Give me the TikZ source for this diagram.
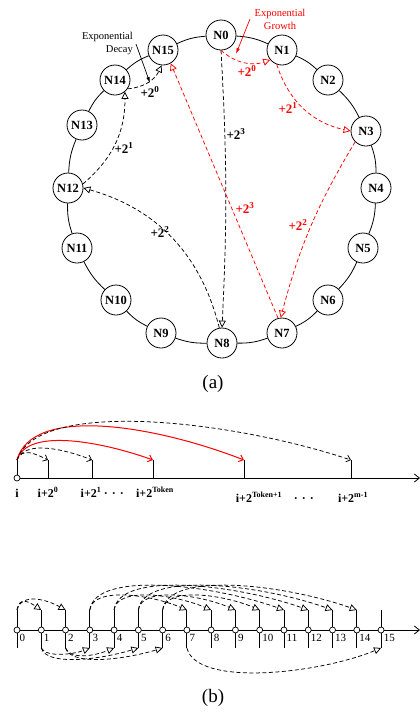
\documentclass[tikz,border=0pt]{standalone}
\usepackage{fontspec}
\setmainfont{Liberation Serif}
\usetikzlibrary{arrows.meta}
\begin{document}
\begin{tikzpicture}[x=1pt,y=1pt,
  ringnode/.style={circle,draw,line width=0.8pt,fill=white,minimum size=30pt,inner sep=0pt,font=\bfseries\fontsize{12.5}{12.5}\selectfont},
  ringedge/.style={line width=0.8pt},
  darr/.style={dash pattern=on 4pt off 2.5pt,line width=0.75pt,-{Triangle[open,length=7pt,width=7pt]}},
  rarr/.style={darr,red},
  lbl/.style={font=\bfseries\fontsize{13}{13}\selectfont,inner sep=0pt},
  rlbl/.style={lbl,text=red},
  note/.style={font=\fontsize{10.5}{13}\selectfont,inner sep=0pt},
  notearr/.style={line width=0.7pt,-{Latex[length=6pt,width=3.5pt]}},
  sdot/.style={circle,draw,line width=0.7pt,fill=white,minimum size=6pt,inner sep=0pt},
  axisline/.style={line width=0.8pt,-{Straight Barb[length=5pt,width=8pt]}},
  tickl/.style={line width=0.8pt},
  barc/.style={dash pattern=on 4pt off 2.5pt,line width=0.75pt,-{Straight Barb[length=4pt,width=7pt]}},
  rbarc/.style={line width=1pt,red,-{Straight Barb[length=4pt,width=7pt]}},
  blbl/.style={font=\bfseries\fontsize{12}{12}\selectfont,inner sep=0pt,anchor=base},
  numlbl/.style={font=\fontsize{11}{11}\selectfont,inner sep=0pt,anchor=west},
  captext/.style={font=\fontsize{19}{19}\selectfont,inner sep=0pt}
]
\useasboundingbox (0,0) rectangle (420,-713);

% ---------------- (a) ring ----------------
\node[ringnode] (N0)  at (221,-35)  {N0};
\node[ringnode] (N1)  at (282,-50)  {N1};
\node[ringnode] (N2)  at (328,-80)  {N2};
\node[ringnode] (N3)  at (366,-131) {N3};
\node[ringnode] (N4)  at (376,-188) {N4};
\node[ringnode] (N5)  at (363,-248) {N5};
\node[ringnode] (N6)  at (328,-300) {N6};
\node[ringnode] (N7)  at (282,-333) {N7};
\node[ringnode] (N8)  at (222,-343) {N8};
\node[ringnode] (N9)  at (161,-333) {N9};
\node[ringnode] (N10) at (116,-300) {N10};
\node[ringnode] (N11) at (77,-248)  {N11};
\node[ringnode] (N12) at (68,-188)  {N12};
\node[ringnode] (N13) at (82,-125)  {N13};
\node[ringnode] (N14) at (115,-80)  {N14};
\node[ringnode] (N15) at (163,-50)  {N15};

\foreach \a/\b in {N0/N1,N1/N2,N2/N3,N3/N4,N4/N5,N5/N6,N6/N7,N7/N8,N8/N9,N9/N10,N10/N11,N11/N12,N12/N13,N13/N14,N14/N15,N15/N0}
  \draw[ringedge] (\a) to[bend left=10] (\b);

% black: exponential decay
\draw[darr] (N0.south) to[bend left=3] (N8.north);
\draw[darr] (N8.100) to[bend right=30] (N12.east);
\draw[darr] (N12.15) to[bend right=25] (N14.-50);
\draw[darr] (N14.-35) to[bend right=30] (N15.-95);
% red: exponential growth
\draw[rarr] (N0.south) to[bend right=30] (N1.220);
\draw[rarr] (N1.250) to[bend right=30] (N3.west);
\draw[rarr] (N3.225) to[bend right=8] (N7.95);
\draw[rarr] (N7.105) -- (N15.-60);

\node[lbl] (k0) at (150,-92) {+2\textsuperscript{0}};
\node[lbl] (k1) at (124,-148) {+2\textsuperscript{1}};
\node[lbl] (k2) at (160,-232) {+2\textsuperscript{2}};
\node[lbl] (k3) at (236,-134) {+2\textsuperscript{3}};
\node[rlbl] (r0) at (247,-71) {+2\textsuperscript{0}};
\node[rlbl] (r1) at (288,-108) {+2\textsuperscript{1}};
\node[rlbl] (r2) at (298,-225) {+2\textsuperscript{2}};
\node[rlbl] (r3) at (245,-208) {+2\textsuperscript{3}};

\node[note,text=red,align=center] (grow) at (280,-19) {Exponential\\Growth};
\node[note,align=right,anchor=east] (decay) at (133,-43.5) {Exponential\\Decay};
\coordinate (gs) at (250,-19);
\coordinate (ge) at (236,-54);
\coordinate (ds) at (136,-44);
\coordinate (de) at (150,-83);
\draw[notearr,red] (gs) -- (ge);
\draw[notearr] (ds) -- (de);

\node[captext] (capa) at (213,-384) {(a)};

% ---------------- (b) top ----------------
\node[sdot] (i) at (17,-478) {};
\coordinate (axA) at (420,-478);
\draw[axisline] (i.east) -- (axA);
\coordinate (it) at (17,-460);
\draw[tickl] (i.north) -- (it);
\foreach \n/\xx in {b0/48,b1/92,bt/153,bu/244,bm/351}{
  \coordinate (\n) at (\xx,-478);
  \coordinate (\n t) at (\xx,-460);
  \draw[tickl] (\n) -- (\n t);
}
\draw[barc] (it) .. controls +(5,13) and +(-12,6) .. (b0t);
\draw[barc] (it) .. controls +(8,21) and +(-25,10) .. (b1t);
\draw[rbarc] (it) .. controls +(10,33) and +(-50,18) .. (btt);
\draw[rbarc] (it) .. controls +(15,55) and +(-90,35) .. (but);
\draw[barc] (it) .. controls +(20,62) and +(-120,40) .. (bmt);

\node[blbl] (li) at (17,-497) {i};
\node[blbl] (l0) at (48,-497) {i+2\textsuperscript{0}};
\node[blbl] (l1) at (91,-497) {i+2\textsuperscript{1}};
\node[blbl] (ld1) at (114,-497) {·\,\,·\,\,·};
\node[blbl] (lt) at (155,-497) {i+2\textsuperscript{Token}};
\node[blbl] (lu) at (259,-502) {i+2\textsuperscript{Token+1}};
\node[blbl] (ld2) at (304,-502) {·\,\,·\,\,·};
\node[blbl] (lm) at (353,-502) {i+2\textsuperscript{m-1}};

% ---------------- (b) bottom ----------------
\coordinate (axS) at (17,-630);
\coordinate (axB) at (420,-630);
\draw[axisline] (axS) -- (axB);
\foreach \k in {0,...,15}{
  \pgfmathsetmacro{\xx}{17+24.27*\k}
  \node[sdot] (p\k) at (\xx,-630) {};
  \coordinate (u\k) at (\xx,-610);
  \coordinate (d\k) at (\xx,-648);
  \draw[tickl] (p\k.north) -- (u\k);
  \draw[tickl] (p\k.south) -- (d\k);
  \node[numlbl] (n\k) at (\xx+2.5,-637.5) {\k};
}
% upper arcs
\draw[darr] (u0) .. controls +(2,14) and +(-12,8) .. (u1);
\draw[darr] (u0) .. controls +(5,18) and +(-18,10) .. (u2);
\foreach \s/\e/\f in {3/7/11,4/8/12,5/9/13,6/10/14}{
  \draw[darr] (u\s) .. controls +(3,24) and +(-35,15) .. (u\e);
  \draw[darr] (u\s) .. controls +(5,40) and +(-70,25) .. (u\f);
}
% lower arcs
\draw[darr] (d1) .. controls +(5,-10) and +(-15,-6) .. (d3);
\draw[darr] (d1) .. controls +(5,-18) and +(-40,-12) .. (d5);
\draw[darr] (d2) .. controls +(5,-12) and +(-20,-8) .. (d4);
\draw[darr] (d2) .. controls +(5,-18) and +(-40,-12) .. (d6);
\draw[darr] (d7) .. controls +(10,-40) and +(-60,-25) .. (d15);

\node[captext] (capb) at (213,-698) {(b)};
\end{tikzpicture}
\end{document}
